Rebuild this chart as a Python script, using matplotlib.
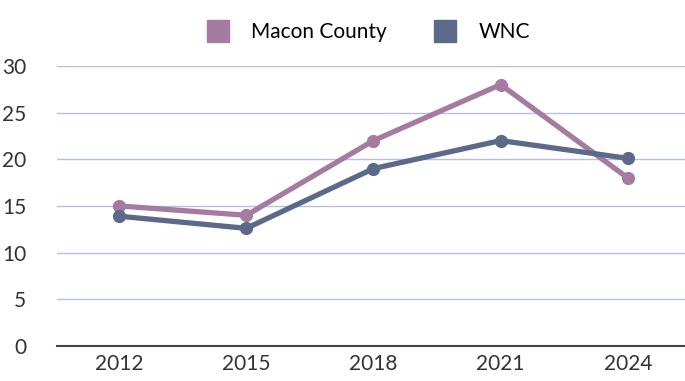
import matplotlib
matplotlib.use("Agg")
import matplotlib.pyplot as plt
from matplotlib.lines import Line2D

years = ["2012", "2015", "2018", "2021", "2024"]
macon = [15.0, 14.0, 22.0, 28.0, 18.0]
wnc = [13.9, 12.6, 19.0, 22.0, 20.1]
series_names = ["Macon County", "WNC"]
yticks = [0, 5, 10, 15, 20, 25, 30]

plt.rcParams['font.family'] = ['Lato', 'DejaVu Sans']
c_macon = "#a57b9f"
c_wnc = "#5b6a88"

fig = plt.figure(figsize=(6.85, 3.81), dpi=100)
ax = fig.add_axes([0.083, 0.092, 0.917, 0.735])
x = list(range(len(years)))
ax.plot(x, macon, color=c_macon, lw=3.8, marker="o", ms=8.5, zorder=3, solid_joinstyle="round")
ax.plot(x, wnc, color=c_wnc, lw=3.8, marker="o", ms=8.5, zorder=3, solid_joinstyle="round")

ax.set_xlim(-0.49, 4.45)
ax.set_ylim(0, 30)
ax.set_yticks(yticks)
ax.set_xticks(x)
ax.set_xticklabels(years)
ax.grid(axis="y", color="#b9c0df", lw=1)
ax.set_axisbelow(True)
for s in ["top", "right", "left"]:
    ax.spines[s].set_visible(False)
ax.spines["bottom"].set_color("#444444")
ax.spines["bottom"].set_linewidth(1.5)
ax.tick_params(axis="both", length=0, labelsize=15, colors="#333333")
ax.tick_params(axis="y", pad=22)
ax.tick_params(axis="x", pad=6)
for lab in ax.get_yticklabels():
    lab.set_horizontalalignment("right")

handles = [Line2D([], [], marker="s", color="none", markerfacecolor=c_macon, markeredgecolor=c_macon, ms=16),
           Line2D([], [], marker="s", color="none", markerfacecolor=c_wnc, markeredgecolor=c_wnc, ms=16)]
fig.legend(handles, series_names, loc="center", bbox_to_anchor=(0.537, 0.915), ncol=2, frameon=False,
           fontsize=15, handletextpad=1.0, columnspacing=2.2, handlelength=1.2)

fig.savefig("out.png", dpi=100, facecolor="white")
